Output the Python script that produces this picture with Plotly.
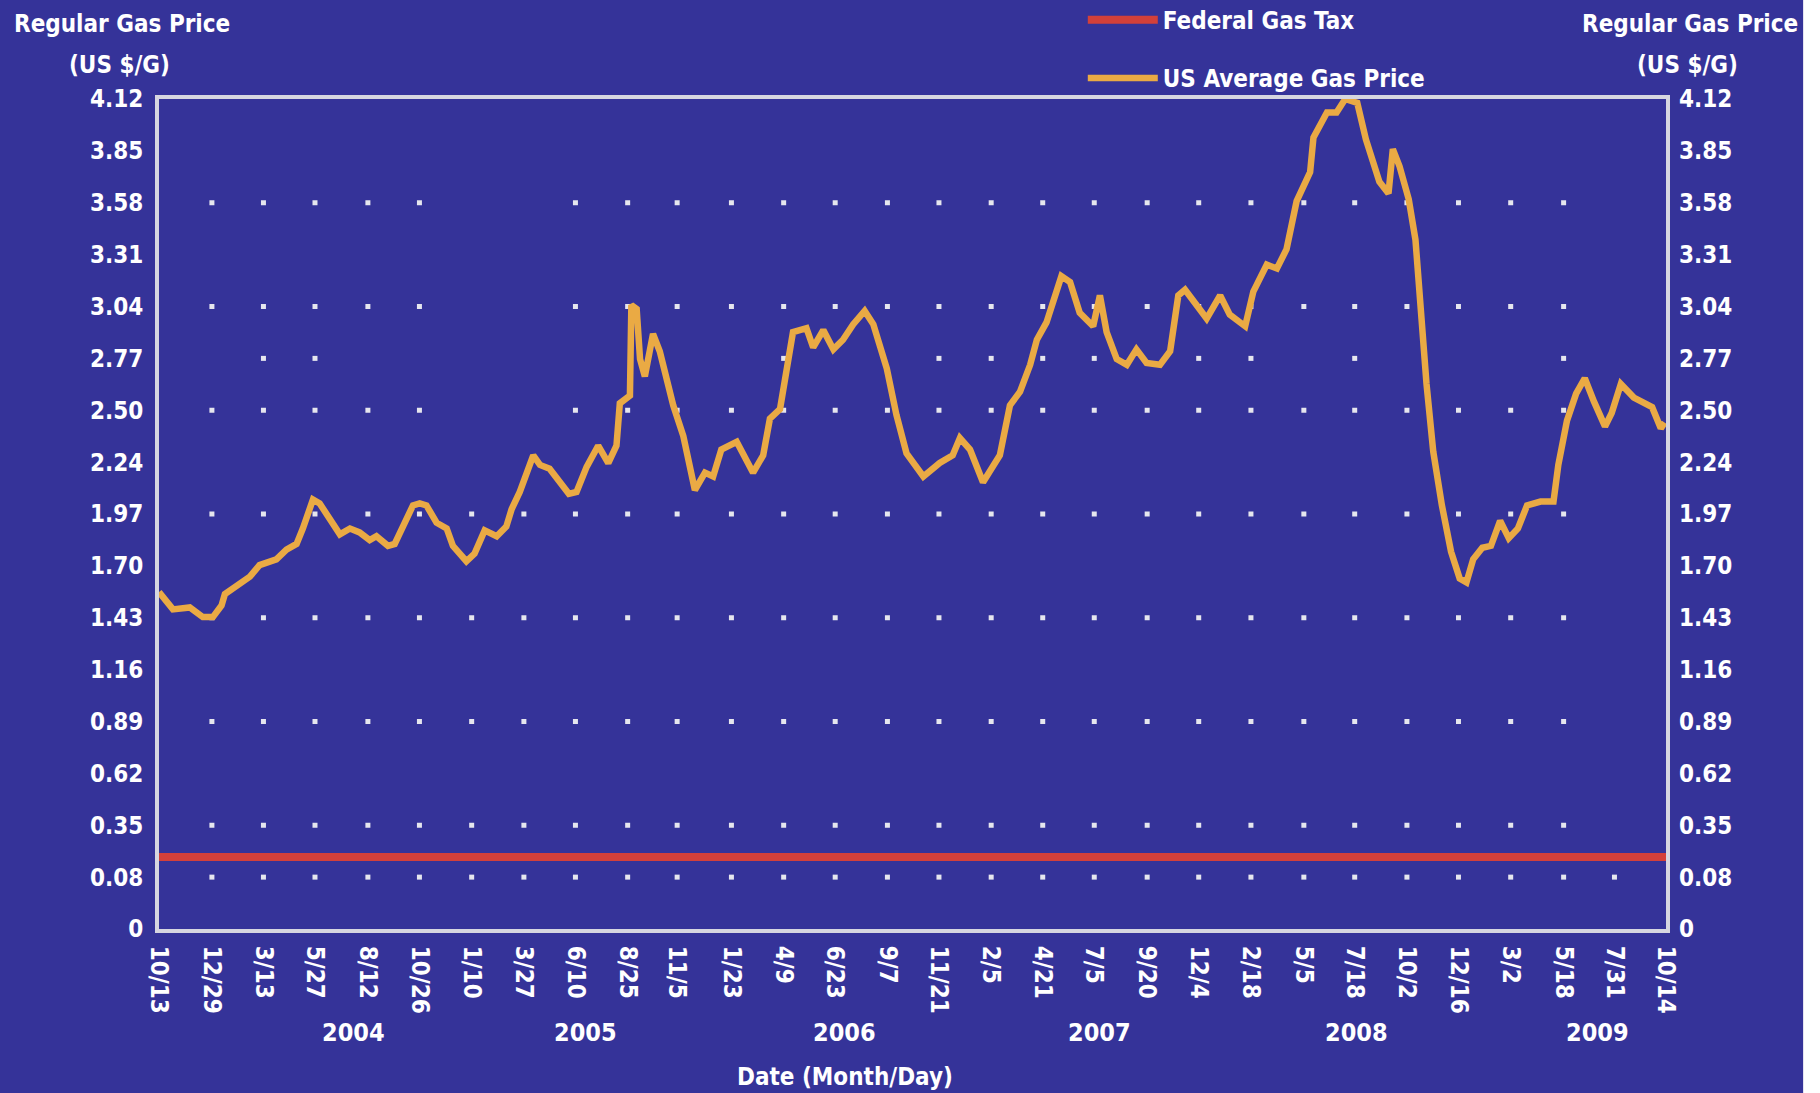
import numpy as np
import pandas as pd
import plotly.graph_objects as go

# weekly US regular gas price (weeks after 10/13/2003, $/gal)
price_weeks = [0, 2.9, 6.4, 9.1, 11.2, 13.0, 13.7, 18.9, 20.9, 24.4, 26.5, 28.6, 29.9, 32.0, 33.4,
               35.5, 37.6, 39.7, 41.7, 43.8, 45.2, 47.6, 49.0, 52.8, 54.2, 55.6, 57.7, 59.8, 61.1,
               63.9, 65.6, 67.7, 70.2, 72.2, 73.3, 75.0, 77.8, 79.2, 81.2, 85.2, 86.8, 88.9, 91.3,
               93.4, 95.1, 95.8, 97.9, 98.2, 99.3, 100.0, 101.0, 102.7, 104.1, 106.9, 109.0, 111.4,
               113.5, 115.2, 116.9, 120.1, 123.5, 125.6, 127.0, 129.1, 130.5, 131.8, 134.6, 136.0,
               138.1, 140.2, 142.2, 144.3, 146.7, 148.5, 151.3, 153.3, 155.4, 158.9, 162.3, 165.0,
               166.5, 168.6, 171.3, 174.8, 176.9, 179.0, 181.1, 182.5, 184.5, 187.6, 189.4, 191.4,
               194.2, 195.6, 197.0, 199.1, 201.2, 203.2, 205.3, 208.1, 210.2, 211.9, 213.3, 215.7,
               217.8, 220.6, 222.6, 225.8, 227.5, 230.3, 232.4, 234.4, 236.5, 239.3, 240.0, 242.8,
               244.8, 246.6, 247.5, 249.1, 250.9, 252.8, 253.7, 255.6, 256.5, 257.9, 259.8, 261.2,
               262.1, 263.5, 264.9, 266.7, 268.6, 270.4, 271.8, 273.2, 275.1, 276.9, 278.8, 280.6,
               282.5, 284.4, 287.2, 289.9, 290.9, 292.7, 294.6, 296.4, 298.3, 300.6, 302.0, 303.9,
               306.6, 310.4, 312.2, 313.0]
price = [1.56, 1.47, 1.48, 1.43, 1.43, 1.49, 1.55, 1.64, 1.70, 1.73, 1.78, 1.81, 1.89, 2.04, 2.02,
         1.94, 1.86, 1.89, 1.87, 1.83, 1.85, 1.80, 1.81, 2.01, 2.02, 2.01, 1.92, 1.89, 1.80,
         1.72, 1.76, 1.88, 1.85, 1.90, 1.99, 2.08, 2.27, 2.22, 2.20, 2.07, 2.08, 2.21, 2.32,
         2.23, 2.32, 2.54, 2.58, 3.05, 3.03, 2.77, 2.68, 2.90, 2.81, 2.53, 2.37, 2.09,
         2.18, 2.16, 2.30, 2.34, 2.18, 2.27, 2.46, 2.51, 2.72, 2.91, 2.93, 2.83,
         2.92, 2.82, 2.87, 2.95, 3.02, 2.95, 2.72, 2.48, 2.28, 2.16, 2.23, 2.27,
         2.36, 2.30, 2.13, 2.27, 2.53, 2.60, 2.74, 2.87, 2.96, 3.20, 3.17, 3.01,
         2.94, 3.10, 2.91, 2.77, 2.74, 2.82, 2.75, 2.74, 2.81, 3.10, 3.13, 3.05,
         2.98, 3.10, 3.00, 2.94, 3.12, 3.26, 3.24, 3.34, 3.59, 3.74, 3.92, 4.05,
         4.05, 4.12, 4.11, 4.10, 3.91, 3.77, 3.69, 3.63, 3.86, 3.77, 3.60, 3.39,
         3.08, 2.64, 2.29, 2.01, 1.77, 1.63, 1.61, 1.73, 1.79, 1.80, 1.93, 1.84,
         1.89, 2.01, 2.03, 2.03, 2.22, 2.45, 2.59, 2.67, 2.55, 2.42, 2.49, 2.64,
         2.57, 2.52, 2.41, 2.44]

federal_tax = 0.184
start_date = "2003-10-13"
end_date = "2009-10-14"

x_tick_dates = ["2003-10-13", "2003-12-29", "2004-03-13", "2004-05-27", "2004-08-12", "2004-10-26",
                "2005-01-10", "2005-03-27", "2005-06-10", "2005-08-25", "2005-11-05", "2006-01-23",
                "2006-04-09", "2006-06-23", "2006-09-07", "2006-11-21", "2007-02-05", "2007-04-21",
                "2007-07-05", "2007-09-20", "2007-12-04", "2008-02-18", "2008-05-05", "2008-07-18",
                "2008-10-02", "2008-12-16", "2009-03-02", "2009-05-18", "2009-07-31", "2009-10-14"]
x_tick_text = [d[5:7].lstrip("0") + "/" + d[8:].lstrip("0") for d in x_tick_dates]

years = ["2004", "2005", "2006", "2007", "2008", "2009"]
year_label_dates = ["2004-07-22", "2005-06-25", "2006-07-06", "2007-07-12", "2008-07-20", "2009-07-06"]

y_tick_text = ["0", "0.08", "0.35", "0.62", "0.89", "1.16", "1.43", "1.70", "1.97", "2.24",
               "2.50", "2.77", "3.04", "3.31", "3.58", "3.85", "4.12"]

# y ticks are evenly spaced: 0.08 .. 4.12 in equal steps, "0" one step under 0.08
steps = np.linspace(0.08, 4.12, 16)
y_tick_vals = [0.08 - (steps[1] - steps[0])] + list(steps)

# dotted grid: rows / columns given as tick indexes
grid_rows = [1, 2, 4, 6, 8, 10, 12, 14]
grid_cols = list(range(1, 28))
partial_row = 11
partial_cols = [2, 3, 12, 15, 16, 17, 18, 20, 21, 23, 27]

BG = "#353399"
FONT = "Liberation Sans Narrow, Arial Narrow, DejaVu Sans Condensed, sans-serif"
WHITE = "#ffffff"

start = pd.Timestamp(start_date)
price_dates = start + pd.to_timedelta(np.array(price_weeks) * 7, unit="D")

gx, gy = [], []
for r in grid_rows:
    cols = grid_cols + ([28] if r == 1 else [])
    for c in cols:
        if r >= 10 and c in (6, 7):
            continue
        gx.append(x_tick_dates[c])
        gy.append(y_tick_vals[r])
for c in partial_cols:
    gx.append(x_tick_dates[c])
    gy.append(y_tick_vals[partial_row])

fig = go.Figure()
fig.add_trace(go.Scatter(x=gx, y=gy, mode="markers", showlegend=False, hoverinfo="skip",
                         marker=dict(symbol="square", size=5, color="#e6e6ee", line=dict(width=0))))
fig.add_trace(go.Scatter(x=[start_date, end_date], y=[federal_tax, federal_tax], mode="lines",
                         name="Federal Gas Tax", legendgroup="a",
                         line=dict(color="#d3403a", width=8), yaxis="y2"))
fig.add_trace(go.Scatter(x=price_dates, y=price, mode="lines", name="US Average Gas Price",
                         legendgroup="b", line=dict(color="#eaaa44", width=6.5)))

tick_font = dict(family=FONT, size=24, color=WHITE, weight="bold")
title_font = dict(family=FONT, size=24, color=WHITE, weight="bold")

fig.update_layout(
    width=1820, height=1093,
    paper_bgcolor=BG, plot_bgcolor=BG,
    margin=dict(l=159, r=154, t=99, b=164, autoexpand=False),
    font=dict(family=FONT, color=WHITE),
    xaxis=dict(type="date", range=[start_date, end_date], tickvals=x_tick_dates, ticktext=x_tick_text,
               tickangle=90, tickfont=tick_font, showgrid=False, zeroline=False,
               showline=True, mirror=True, linecolor="#d6d6e0", linewidth=4, ticks="",
               ticklabelstandoff=8),
    yaxis=dict(range=[y_tick_vals[0], 4.12], tickvals=y_tick_vals, ticktext=y_tick_text,
               tickfont=tick_font, showgrid=False, zeroline=False,
               showline=True, mirror=True, linecolor="#d6d6e0", linewidth=4, ticks="",
               ticklabelstandoff=7),
    yaxis2=dict(range=[y_tick_vals[0], 4.12], overlaying="y", side="right", tickvals=y_tick_vals,
                ticktext=y_tick_text, tickfont=tick_font, showgrid=False, zeroline=False,
                showline=False, ticks="", ticklabelstandoff=12),
    legend=dict(x=0.613, y=1.122, xanchor="left", yanchor="top", bgcolor="rgba(0,0,0,0)",
                font=dict(family=FONT, size=24, color=WHITE, weight="bold"),
                tracegroupgap=24, itemwidth=70),
    showlegend=True,
)

for xp, xp2 in ((-0.0246, -0.0265), (1.016, 1.014)):
    fig.add_annotation(x=xp, y=1.090, xref="paper", yref="paper", showarrow=False,
                       text="Regular Gas Price", font=title_font,
                       xanchor="center", yanchor="middle")
    fig.add_annotation(x=xp2, y=1.041, xref="paper", yref="paper", showarrow=False,
                       text="(US $/G)", font=title_font,
                       xanchor="center", yanchor="middle")

for yr, d in zip(years, year_label_dates):
    fig.add_annotation(x=d, y=-0.125, xref="x", yref="paper", text=yr, showarrow=False,
                       font=dict(family=FONT, size=25, color=WHITE, weight="bold"),
                       xanchor="center", yanchor="middle")

fig.add_annotation(x=0.455, y=-0.178, xref="paper", yref="paper", text="Date (Month/Day)",
                   showarrow=False, font=title_font, xanchor="center", yanchor="middle")

# white strip along the right edge of the page
fig.add_shape(type="rect", xref="paper", yref="paper", x0=1.091, x1=1.2, y0=-0.3, y1=1.3,
              fillcolor="white", line=dict(width=0), layer="below")

fig.write_html("out.html", config={"displayModeBar": False},
               post_script="document.body.style.margin='0';")
